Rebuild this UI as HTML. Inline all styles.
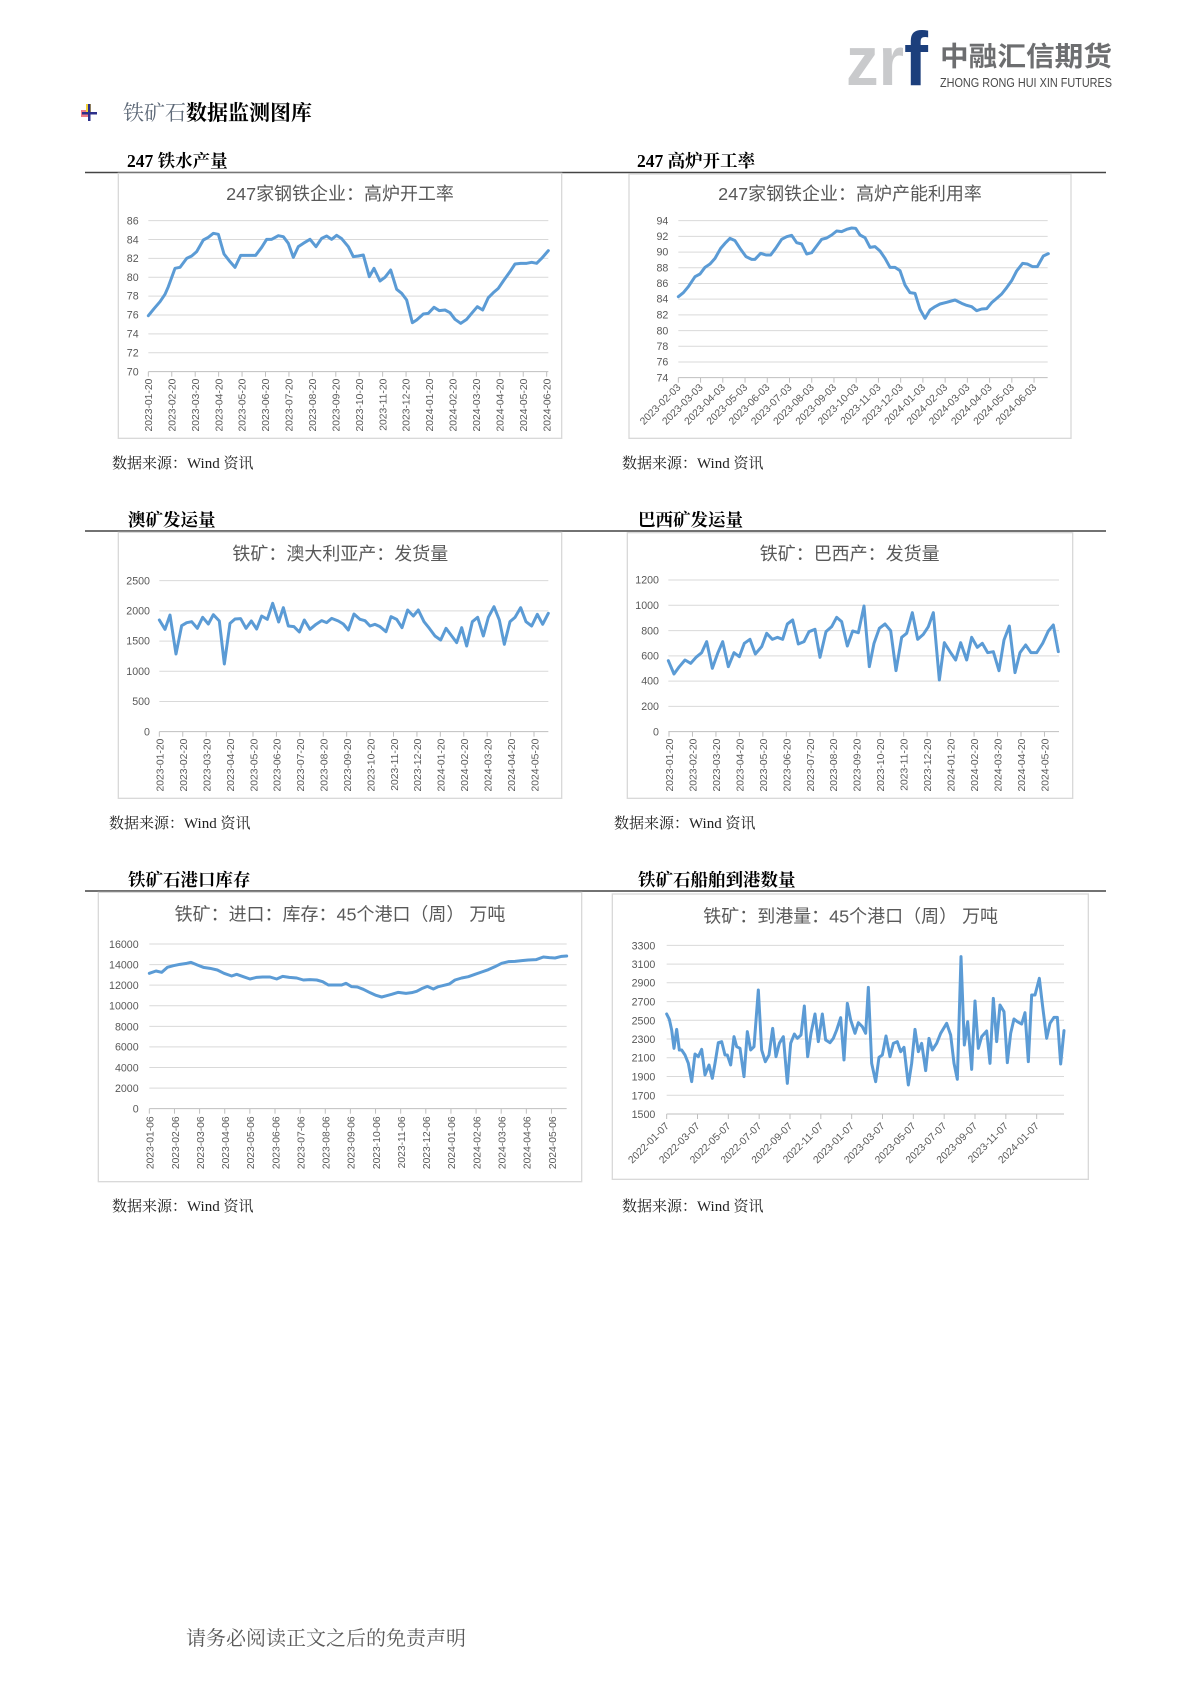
<!DOCTYPE html>
<html><head><meta charset="utf-8">
<style>
html,body{margin:0;padding:0;background:#fff;}
body{width:1190px;height:1683px;position:relative;overflow:hidden;}
svg{position:absolute;left:0;top:0;}
.ser{font-family:"Liberation Serif","Noto Serif CJK SC",serif;}
.san{font-family:"Liberation Sans","Noto Sans CJK SC",sans-serif;}
.ttl{font-family:"Liberation Sans","Noto Sans CJK SC",sans-serif;font-size:54px;fill:#595959;}
.yl{font-family:"Liberation Sans",sans-serif;font-size:32px;fill:#595959;}
.xl{font-family:"Liberation Sans",sans-serif;font-size:31px;fill:#595959;}
.grid{stroke:#d9d9d9;stroke-width:3;}
.ax{stroke:#bfbfbf;stroke-width:3;}
.box{fill:#fff;stroke:#d9d9d9;stroke-width:4;}
.ln{fill:none;stroke:#5b9bd5;stroke-width:9;stroke-linejoin:round;stroke-linecap:round;}
</style></head>
<body>
<svg width="1190" height="1683" viewBox="0 0 1190 1683" xmlns="http://www.w3.org/2000/svg">
<!-- logo -->
<text x="846" y="85" class="san" font-size="70" font-weight="bold" fill="#c9cacc" textLength="58" lengthAdjust="spacingAndGlyphs">zr</text>
<text x="904" y="85" class="san" font-size="76" font-weight="bold" fill="#1c3f7c" textLength="24" lengthAdjust="spacingAndGlyphs">f</text>
<text x="940" y="66" class="san" font-size="27" font-weight="bold" fill="#6d6e70" textLength="172" lengthAdjust="spacingAndGlyphs">中融汇信期货</text>
<text x="940" y="87" class="san" font-size="12.5" fill="#4a4a4a" textLength="172" lengthAdjust="spacingAndGlyphs">ZHONG RONG HUI XIN FUTURES</text>

<!-- section heading -->
<rect x="81" y="110" width="8" height="7" fill="#e85a6a" opacity="0.8"/>
<rect x="86" y="104" width="5" height="8" fill="#f2d23a"/>
<rect x="88" y="104" width="2.5" height="17" fill="#2c2f8a"/>
<rect x="82" y="112" width="15" height="2.5" fill="#2c2f8a"/>
<text x="123" y="120" class="ser" font-size="21" fill="#5d6877">铁矿石<tspan fill="#000" font-weight="bold">数据监测图库</tspan></text>

<!-- headers -->
<g class="ser" font-size="17.5" font-weight="bold" fill="#000">
<text x="127" y="167">247 铁水产量</text>
<text x="637" y="167">247 高炉开工率</text>
<text x="128" y="526">澳矿发运量</text>
<text x="638" y="526">巴西矿发运量</text>
<text x="128" y="886">铁矿石港口库存</text>
<text x="638" y="886">铁矿石船舶到港数量</text>
</g>
<g stroke="#444" stroke-width="1.5">
<line x1="85" y1="172.5" x2="1106" y2="172.5"/>
<line x1="85" y1="531" x2="1106" y2="531"/>
<line x1="85" y1="891" x2="1106" y2="891"/>
</g>

<!-- sources -->
<g class="ser" font-size="15" fill="#222">
<text x="112" y="468">数据来源：Wind 资讯</text>
<text x="622" y="468">数据来源：Wind 资讯</text>
<text x="109" y="828">数据来源：Wind 资讯</text>
<text x="614" y="828">数据来源：Wind 资讯</text>
<text x="112" y="1211">数据来源：Wind 资讯</text>
<text x="622" y="1211">数据来源：Wind 资讯</text>
</g>
<text x="186" y="1645" class="ser" font-size="20" fill="#595959">请务必阅读正文之后的免责声明</text>

<!-- CHART 1 -->
<g transform="translate(80,150) scale(0.333333)">
<rect class="box" x="115" y="70" width="1330" height="795"/>
<text class="ttl" x="780" y="150" text-anchor="middle">247家钢铁企业：高炉开工率</text>
<g class="grid">
<line x1="205" x2="1405" y1="212" y2="212"/><line x1="205" x2="1405" y1="268.6" y2="268.6"/><line x1="205" x2="1405" y1="325.3" y2="325.3"/><line x1="205" x2="1405" y1="381.9" y2="381.9"/><line x1="205" x2="1405" y1="438.5" y2="438.5"/><line x1="205" x2="1405" y1="495.1" y2="495.1"/><line x1="205" x2="1405" y1="551.8" y2="551.8"/><line x1="205" x2="1405" y1="608.4" y2="608.4"/>
</g>
<line class="ax" x1="205" x2="1405" y1="665" y2="665"/>
<g class="yl" text-anchor="end">
<text x="176" y="223">86</text><text x="176" y="280">84</text><text x="176" y="336">82</text><text x="176" y="393">80</text><text x="176" y="449">78</text><text x="176" y="506">76</text><text x="176" y="563">74</text><text x="176" y="619">72</text><text x="176" y="676">70</text>
</g>
<g class="ax">
<line x1="205" x2="205" y1="665" y2="680"/><line x1="275.3" x2="275.3" y1="665" y2="680"/><line x1="345.6" x2="345.6" y1="665" y2="680"/><line x1="415.9" x2="415.9" y1="665" y2="680"/><line x1="486.2" x2="486.2" y1="665" y2="680"/><line x1="556.5" x2="556.5" y1="665" y2="680"/><line x1="626.8" x2="626.8" y1="665" y2="680"/><line x1="697.1" x2="697.1" y1="665" y2="680"/><line x1="767.4" x2="767.4" y1="665" y2="680"/><line x1="837.6" x2="837.6" y1="665" y2="680"/><line x1="907.9" x2="907.9" y1="665" y2="680"/><line x1="978.2" x2="978.2" y1="665" y2="680"/><line x1="1048.5" x2="1048.5" y1="665" y2="680"/><line x1="1118.8" x2="1118.8" y1="665" y2="680"/><line x1="1189.1" x2="1189.1" y1="665" y2="680"/><line x1="1259.4" x2="1259.4" y1="665" y2="680"/><line x1="1329.7" x2="1329.7" y1="665" y2="680"/><line x1="1400" x2="1400" y1="665" y2="680"/>
</g>
<g class="xl" text-anchor="end">
<text transform="translate(205,686) rotate(-90)" dy="0.35em">2023-01-20</text>
<text transform="translate(275.3,686) rotate(-90)" dy="0.35em">2023-02-20</text>
<text transform="translate(345.6,686) rotate(-90)" dy="0.35em">2023-03-20</text>
<text transform="translate(415.9,686) rotate(-90)" dy="0.35em">2023-04-20</text>
<text transform="translate(486.2,686) rotate(-90)" dy="0.35em">2023-05-20</text>
<text transform="translate(556.5,686) rotate(-90)" dy="0.35em">2023-06-20</text>
<text transform="translate(626.8,686) rotate(-90)" dy="0.35em">2023-07-20</text>
<text transform="translate(697.1,686) rotate(-90)" dy="0.35em">2023-08-20</text>
<text transform="translate(767.4,686) rotate(-90)" dy="0.35em">2023-09-20</text>
<text transform="translate(837.6,686) rotate(-90)" dy="0.35em">2023-10-20</text>
<text transform="translate(907.9,686) rotate(-90)" dy="0.35em">2023-11-20</text>
<text transform="translate(978.2,686) rotate(-90)" dy="0.35em">2023-12-20</text>
<text transform="translate(1048.5,686) rotate(-90)" dy="0.35em">2024-01-20</text>
<text transform="translate(1118.8,686) rotate(-90)" dy="0.35em">2024-02-20</text>
<text transform="translate(1189.1,686) rotate(-90)" dy="0.35em">2024-03-20</text>
<text transform="translate(1259.4,686) rotate(-90)" dy="0.35em">2024-04-20</text>
<text transform="translate(1329.7,686) rotate(-90)" dy="0.35em">2024-05-20</text>
<text transform="translate(1400,686) rotate(-90)" dy="0.35em">2024-06-20</text>
</g>
<polyline class="ln" points="205,497 222,476 240,455 255,433 265,410 285,355 300,352 320,325 335,318 350,305 370,270 385,262 400,250 415,253 432,312 450,335 465,352 482,316 500,316 527,316 545,292 560,268 575,268 595,257 610,260 625,280 640,322 655,290 670,280 690,268 708,290 725,265 740,258 755,268 770,256 785,266 805,290 820,320 835,318 850,315 868,380 882,355 900,393 915,382 932,360 950,418 965,430 980,450 997,518 1010,510 1030,492 1045,490 1062,472 1078,482 1095,480 1110,488 1125,508 1142,520 1160,508 1175,490 1192,470 1208,480 1225,443 1240,428 1255,415 1272,390 1290,365 1305,342 1322,340 1340,340 1355,337 1370,340 1385,325 1405,302"/>
</g>

<!-- CHART 2 -->
<g transform="translate(600,150) scale(0.333333)">
<rect class="box" x="87" y="72" width="1326" height="793"/>
<text class="ttl" x="750" y="150" text-anchor="middle">247家钢铁企业：高炉产能利用率</text>
<g class="grid">
<line x1="235" x2="1343" y1="212" y2="212"/><line x1="235" x2="1343" y1="259.1" y2="259.1"/><line x1="235" x2="1343" y1="306.2" y2="306.2"/><line x1="235" x2="1343" y1="353.3" y2="353.3"/><line x1="235" x2="1343" y1="400.4" y2="400.4"/><line x1="235" x2="1343" y1="447.5" y2="447.5"/><line x1="235" x2="1343" y1="494.6" y2="494.6"/><line x1="235" x2="1343" y1="541.7" y2="541.7"/><line x1="235" x2="1343" y1="588.8" y2="588.8"/><line x1="235" x2="1343" y1="635.9" y2="635.9"/>
</g>
<line class="ax" x1="235" x2="1343" y1="683" y2="683"/>
<g class="yl" text-anchor="end">
<text x="205" y="223">94</text><text x="205" y="270">92</text><text x="205" y="317">90</text><text x="205" y="364">88</text><text x="205" y="411">86</text><text x="205" y="458">84</text><text x="205" y="506">82</text><text x="205" y="553">80</text><text x="205" y="600">78</text><text x="205" y="647">76</text><text x="205" y="694">74</text>
</g>
<g class="ax">
<line x1="235" x2="235" y1="683" y2="698"/><line x1="301.7" x2="301.7" y1="683" y2="698"/><line x1="368.4" x2="368.4" y1="683" y2="698"/><line x1="435.1" x2="435.1" y1="683" y2="698"/><line x1="501.8" x2="501.8" y1="683" y2="698"/><line x1="568.5" x2="568.5" y1="683" y2="698"/><line x1="635.2" x2="635.2" y1="683" y2="698"/><line x1="701.9" x2="701.9" y1="683" y2="698"/><line x1="768.6" x2="768.6" y1="683" y2="698"/><line x1="835.3" x2="835.3" y1="683" y2="698"/><line x1="902" x2="902" y1="683" y2="698"/><line x1="968.7" x2="968.7" y1="683" y2="698"/><line x1="1035.4" x2="1035.4" y1="683" y2="698"/><line x1="1102.1" x2="1102.1" y1="683" y2="698"/><line x1="1168.8" x2="1168.8" y1="683" y2="698"/><line x1="1235.5" x2="1235.5" y1="683" y2="698"/><line x1="1302.2" x2="1302.2" y1="683" y2="698"/>
</g>
<g class="xl" font-size="33" text-anchor="end">
<text transform="translate(244,714) rotate(-45)">2023-02-03</text>
<text transform="translate(310.7,714) rotate(-45)">2023-03-03</text>
<text transform="translate(377.4,714) rotate(-45)">2023-04-03</text>
<text transform="translate(444.1,714) rotate(-45)">2023-05-03</text>
<text transform="translate(510.8,714) rotate(-45)">2023-06-03</text>
<text transform="translate(577.5,714) rotate(-45)">2023-07-03</text>
<text transform="translate(644.2,714) rotate(-45)">2023-08-03</text>
<text transform="translate(710.9,714) rotate(-45)">2023-09-03</text>
<text transform="translate(777.6,714) rotate(-45)">2023-10-03</text>
<text transform="translate(844.3,714) rotate(-45)">2023-11-03</text>
<text transform="translate(911,714) rotate(-45)">2023-12-03</text>
<text transform="translate(977.7,714) rotate(-45)">2024-01-03</text>
<text transform="translate(1044.4,714) rotate(-45)">2024-02-03</text>
<text transform="translate(1111.1,714) rotate(-45)">2024-03-03</text>
<text transform="translate(1177.8,714) rotate(-45)">2024-04-03</text>
<text transform="translate(1244.5,714) rotate(-45)">2024-05-03</text>
<text transform="translate(1311.2,714) rotate(-45)">2024-06-03</text>
</g>
<polyline class="ln" points="235,440 250,428 265,410 285,380 300,372 315,352 330,342 345,325 362,295 375,280 390,265 405,272 420,295 438,320 455,328 465,328 482,310 498,315 512,315 527,295 545,268 560,260 575,256 590,278 605,282 620,312 635,308 650,288 665,268 680,264 695,255 710,243 725,245 740,238 755,234 767,235 780,255 795,263 810,292 825,290 840,303 855,325 870,352 885,352 900,362 915,405 930,428 945,430 960,478 975,505 990,480 1005,470 1020,462 1040,457 1065,450 1085,460 1100,466 1115,470 1130,482 1145,477 1160,476 1175,458 1190,445 1205,432 1220,413 1235,392 1250,363 1268,340 1282,342 1298,350 1312,350 1330,318 1345,311"/>
</g>

<!-- CHART 3 -->
<g transform="translate(80,510) scale(0.333333)">
<rect class="box" x="115" y="67" width="1330" height="798"/>
<text class="ttl" x="781" y="150" text-anchor="middle">铁矿：澳大利亚产：发货量</text>
<g class="grid">
<line x1="238" x2="1405" y1="212" y2="212"/><line x1="238" x2="1405" y1="302.6" y2="302.6"/><line x1="238" x2="1405" y1="393.2" y2="393.2"/><line x1="238" x2="1405" y1="483.8" y2="483.8"/><line x1="238" x2="1405" y1="574.4" y2="574.4"/>
</g>
<line class="ax" x1="238" x2="1405" y1="665" y2="665"/>
<g class="yl" text-anchor="end">
<text x="210" y="223">2500</text><text x="210" y="313">2000</text><text x="210" y="404">1500</text><text x="210" y="495">1000</text><text x="210" y="585">500</text><text x="210" y="676">0</text>
</g>
<g class="ax">
<line x1="238" x2="238" y1="665" y2="680"/><line x1="308.3" x2="308.3" y1="665" y2="680"/><line x1="378.5" x2="378.5" y1="665" y2="680"/><line x1="448.8" x2="448.8" y1="665" y2="680"/><line x1="519" x2="519" y1="665" y2="680"/><line x1="589.3" x2="589.3" y1="665" y2="680"/><line x1="659.5" x2="659.5" y1="665" y2="680"/><line x1="729.8" x2="729.8" y1="665" y2="680"/><line x1="800" x2="800" y1="665" y2="680"/><line x1="870.3" x2="870.3" y1="665" y2="680"/><line x1="940.5" x2="940.5" y1="665" y2="680"/><line x1="1010.8" x2="1010.8" y1="665" y2="680"/><line x1="1081" x2="1081" y1="665" y2="680"/><line x1="1151.3" x2="1151.3" y1="665" y2="680"/><line x1="1221.5" x2="1221.5" y1="665" y2="680"/><line x1="1291.8" x2="1291.8" y1="665" y2="680"/><line x1="1362" x2="1362" y1="665" y2="680"/>
</g>
<g class="xl" text-anchor="end">
<text transform="translate(240,686) rotate(-90)" dy="0.35em">2023-01-20</text>
<text transform="translate(310.3,686) rotate(-90)" dy="0.35em">2023-02-20</text>
<text transform="translate(380.5,686) rotate(-90)" dy="0.35em">2023-03-20</text>
<text transform="translate(450.8,686) rotate(-90)" dy="0.35em">2023-04-20</text>
<text transform="translate(521,686) rotate(-90)" dy="0.35em">2023-05-20</text>
<text transform="translate(591.3,686) rotate(-90)" dy="0.35em">2023-06-20</text>
<text transform="translate(661.5,686) rotate(-90)" dy="0.35em">2023-07-20</text>
<text transform="translate(731.8,686) rotate(-90)" dy="0.35em">2023-08-20</text>
<text transform="translate(802,686) rotate(-90)" dy="0.35em">2023-09-20</text>
<text transform="translate(872.3,686) rotate(-90)" dy="0.35em">2023-10-20</text>
<text transform="translate(942.5,686) rotate(-90)" dy="0.35em">2023-11-20</text>
<text transform="translate(1012.8,686) rotate(-90)" dy="0.35em">2023-12-20</text>
<text transform="translate(1083,686) rotate(-90)" dy="0.35em">2024-01-20</text>
<text transform="translate(1153.3,686) rotate(-90)" dy="0.35em">2024-02-20</text>
<text transform="translate(1223.5,686) rotate(-90)" dy="0.35em">2024-03-20</text>
<text transform="translate(1293.8,686) rotate(-90)" dy="0.35em">2024-04-20</text>
<text transform="translate(1364,686) rotate(-90)" dy="0.35em">2024-05-20</text>
</g>
<polyline class="ln" points="238,330 255,358 270,315 288,432 305,347 320,338 335,335 352,355 368,322 385,342 400,314 418,333 433,462 450,340 465,327 482,326 498,355 514,333 530,357 545,318 562,328 578,280 596,336 610,293 625,348 642,350 658,366 673,330 690,358 708,343 725,332 740,338 755,325 775,333 790,342 805,360 822,312 840,328 855,332 870,348 885,343 900,350 918,365 933,320 950,328 966,353 983,300 1000,318 1015,300 1032,335 1048,355 1065,378 1082,390 1098,355 1113,375 1130,398 1145,353 1160,408 1177,335 1193,322 1210,378 1225,322 1242,290 1258,330 1273,403 1290,335 1305,322 1322,293 1338,335 1355,348 1372,313 1388,343 1405,310"/>
</g>

<!-- CHART 4 -->
<g transform="translate(600,510) scale(0.333333)">
<rect class="box" x="82" y="68" width="1336" height="797"/>
<text class="ttl" x="749" y="150" text-anchor="middle">铁矿：巴西产：发货量</text>
<g class="grid">
<line x1="205" x2="1377" y1="210" y2="210"/><line x1="205" x2="1377" y1="285.8" y2="285.8"/><line x1="205" x2="1377" y1="361.7" y2="361.7"/><line x1="205" x2="1377" y1="437.5" y2="437.5"/><line x1="205" x2="1377" y1="513.3" y2="513.3"/><line x1="205" x2="1377" y1="589.2" y2="589.2"/>
</g>
<line class="ax" x1="205" x2="1377" y1="665" y2="665"/>
<g class="yl" text-anchor="end">
<text x="177" y="221">1200</text><text x="177" y="297">1000</text><text x="177" y="373">800</text><text x="177" y="448">600</text><text x="177" y="524">400</text><text x="177" y="600">200</text><text x="177" y="676">0</text>
</g>
<g class="ax">
<line x1="207" x2="207" y1="665" y2="680"/><line x1="277.4" x2="277.4" y1="665" y2="680"/><line x1="347.8" x2="347.8" y1="665" y2="680"/><line x1="418.2" x2="418.2" y1="665" y2="680"/><line x1="488.6" x2="488.6" y1="665" y2="680"/><line x1="559" x2="559" y1="665" y2="680"/><line x1="629.4" x2="629.4" y1="665" y2="680"/><line x1="699.8" x2="699.8" y1="665" y2="680"/><line x1="770.2" x2="770.2" y1="665" y2="680"/><line x1="840.6" x2="840.6" y1="665" y2="680"/><line x1="911" x2="911" y1="665" y2="680"/><line x1="981.4" x2="981.4" y1="665" y2="680"/><line x1="1051.8" x2="1051.8" y1="665" y2="680"/><line x1="1122.2" x2="1122.2" y1="665" y2="680"/><line x1="1192.6" x2="1192.6" y1="665" y2="680"/><line x1="1263" x2="1263" y1="665" y2="680"/><line x1="1333.4" x2="1333.4" y1="665" y2="680"/>
</g>
<g class="xl" text-anchor="end">
<text transform="translate(208,686) rotate(-90)" dy="0.35em">2023-01-20</text>
<text transform="translate(278.4,686) rotate(-90)" dy="0.35em">2023-02-20</text>
<text transform="translate(348.8,686) rotate(-90)" dy="0.35em">2023-03-20</text>
<text transform="translate(419.2,686) rotate(-90)" dy="0.35em">2023-04-20</text>
<text transform="translate(489.6,686) rotate(-90)" dy="0.35em">2023-05-20</text>
<text transform="translate(560,686) rotate(-90)" dy="0.35em">2023-06-20</text>
<text transform="translate(630.4,686) rotate(-90)" dy="0.35em">2023-07-20</text>
<text transform="translate(700.8,686) rotate(-90)" dy="0.35em">2023-08-20</text>
<text transform="translate(771.2,686) rotate(-90)" dy="0.35em">2023-09-20</text>
<text transform="translate(841.6,686) rotate(-90)" dy="0.35em">2023-10-20</text>
<text transform="translate(912,686) rotate(-90)" dy="0.35em">2023-11-20</text>
<text transform="translate(982.4,686) rotate(-90)" dy="0.35em">2023-12-20</text>
<text transform="translate(1052.8,686) rotate(-90)" dy="0.35em">2024-01-20</text>
<text transform="translate(1123.2,686) rotate(-90)" dy="0.35em">2024-02-20</text>
<text transform="translate(1193.6,686) rotate(-90)" dy="0.35em">2024-03-20</text>
<text transform="translate(1264,686) rotate(-90)" dy="0.35em">2024-04-20</text>
<text transform="translate(1334.4,686) rotate(-90)" dy="0.35em">2024-05-20</text>
</g>
<polyline class="ln" points="205,452 222,492 238,470 255,450 272,460 288,442 305,428 320,395 337,475 353,430 368,395 385,470 402,428 418,440 433,400 450,388 466,432 485,410 500,370 517,388 532,382 548,388 562,342 578,330 595,402 612,395 627,365 645,358 660,442 678,365 695,350 710,322 725,335 742,408 758,363 775,368 792,288 808,470 822,400 838,355 855,342 872,362 888,482 905,382 920,370 937,308 953,388 970,373 985,350 1000,308 1018,510 1033,398 1050,425 1067,450 1082,398 1100,450 1115,382 1132,412 1147,400 1163,428 1180,425 1197,482 1212,390 1228,348 1245,488 1260,428 1277,405 1293,428 1310,428 1328,400 1345,363 1360,345 1375,425"/>
</g>

<!-- CHART 5 -->
<g transform="translate(80,870) scale(0.333333)">
<rect class="box" x="55" y="67" width="1450" height="868"/>
<text class="ttl" x="780" y="152" text-anchor="middle">铁矿：进口：库存：45个港口（周） 万吨</text>
<g class="grid">
<line x1="208" x2="1460" y1="222" y2="222"/><line x1="208" x2="1460" y1="283.8" y2="283.8"/><line x1="208" x2="1460" y1="345.5" y2="345.5"/><line x1="208" x2="1460" y1="407.3" y2="407.3"/><line x1="208" x2="1460" y1="469" y2="469"/><line x1="208" x2="1460" y1="530.8" y2="530.8"/><line x1="208" x2="1460" y1="592.5" y2="592.5"/><line x1="208" x2="1460" y1="654.3" y2="654.3"/>
</g>
<line class="ax" x1="208" x2="1460" y1="716" y2="716"/>
<g class="yl" font-size="34" text-anchor="end">
<text x="176" y="234">16000</text><text x="176" y="296">14000</text><text x="176" y="357">12000</text><text x="176" y="419">10000</text><text x="176" y="481">8000</text><text x="176" y="542">6000</text><text x="176" y="604">4000</text><text x="176" y="666">2000</text><text x="176" y="728">0</text>
</g>
<g class="ax">
<line x1="208" x2="208" y1="716" y2="731"/><line x1="283.4" x2="283.4" y1="716" y2="731"/><line x1="358.8" x2="358.8" y1="716" y2="731"/><line x1="434.2" x2="434.2" y1="716" y2="731"/><line x1="509.6" x2="509.6" y1="716" y2="731"/><line x1="585" x2="585" y1="716" y2="731"/><line x1="660.4" x2="660.4" y1="716" y2="731"/><line x1="735.8" x2="735.8" y1="716" y2="731"/><line x1="811.2" x2="811.2" y1="716" y2="731"/><line x1="886.6" x2="886.6" y1="716" y2="731"/><line x1="962" x2="962" y1="716" y2="731"/><line x1="1037.4" x2="1037.4" y1="716" y2="731"/><line x1="1112.8" x2="1112.8" y1="716" y2="731"/><line x1="1188.2" x2="1188.2" y1="716" y2="731"/><line x1="1263.6" x2="1263.6" y1="716" y2="731"/><line x1="1339" x2="1339" y1="716" y2="731"/><line x1="1414.4" x2="1414.4" y1="716" y2="731"/>
</g>
<g class="xl" font-size="33" text-anchor="end">
<text transform="translate(210,739) rotate(-90)" dy="0.35em">2023-01-06</text>
<text transform="translate(285.4,739) rotate(-90)" dy="0.35em">2023-02-06</text>
<text transform="translate(360.8,739) rotate(-90)" dy="0.35em">2023-03-06</text>
<text transform="translate(436.2,739) rotate(-90)" dy="0.35em">2023-04-06</text>
<text transform="translate(511.6,739) rotate(-90)" dy="0.35em">2023-05-06</text>
<text transform="translate(587,739) rotate(-90)" dy="0.35em">2023-06-06</text>
<text transform="translate(662.4,739) rotate(-90)" dy="0.35em">2023-07-06</text>
<text transform="translate(737.8,739) rotate(-90)" dy="0.35em">2023-08-06</text>
<text transform="translate(813.2,739) rotate(-90)" dy="0.35em">2023-09-06</text>
<text transform="translate(888.6,739) rotate(-90)" dy="0.35em">2023-10-06</text>
<text transform="translate(964,739) rotate(-90)" dy="0.35em">2023-11-06</text>
<text transform="translate(1039.4,739) rotate(-90)" dy="0.35em">2023-12-06</text>
<text transform="translate(1114.8,739) rotate(-90)" dy="0.35em">2024-01-06</text>
<text transform="translate(1190.2,739) rotate(-90)" dy="0.35em">2024-02-06</text>
<text transform="translate(1265.6,739) rotate(-90)" dy="0.35em">2024-03-06</text>
<text transform="translate(1341,739) rotate(-90)" dy="0.35em">2024-04-06</text>
<text transform="translate(1416.4,739) rotate(-90)" dy="0.35em">2024-05-06</text>
</g>
<polyline class="ln" points="208,310 228,303 245,307 262,292 280,287 300,283 320,280 333,277 352,285 370,292 390,295 412,300 432,310 455,318 470,313 490,320 510,327 530,322 548,321 570,321 590,327 608,319 628,322 650,324 670,330 690,329 710,330 728,335 745,345 765,345 785,345 798,340 815,350 832,351 850,358 870,368 888,376 905,381 920,377 935,373 955,367 978,370 995,368 1010,364 1025,356 1042,349 1060,357 1075,350 1092,346 1108,342 1125,330 1145,324 1165,320 1185,313 1205,306 1225,299 1245,290 1265,280 1285,275 1305,274 1325,272 1345,270 1368,269 1390,261 1408,263 1425,264 1445,259 1460,258"/>
</g>

<!-- CHART 6 -->
<g transform="translate(600,870) scale(0.333333)">
<rect class="box" x="37" y="72" width="1428" height="856"/>
<text class="ttl" x="752" y="158" text-anchor="middle">铁矿：到港量：45个港口（周） 万吨</text>
<g class="grid">
<line x1="200" x2="1392" y1="226" y2="226"/><line x1="200" x2="1392" y1="282.2" y2="282.2"/><line x1="200" x2="1392" y1="338.4" y2="338.4"/><line x1="200" x2="1392" y1="394.7" y2="394.7"/><line x1="200" x2="1392" y1="450.9" y2="450.9"/><line x1="200" x2="1392" y1="507.1" y2="507.1"/><line x1="200" x2="1392" y1="563.3" y2="563.3"/><line x1="200" x2="1392" y1="619.6" y2="619.6"/><line x1="200" x2="1392" y1="675.8" y2="675.8"/>
</g>
<line class="ax" x1="200" x2="1392" y1="732" y2="732"/>
<g class="yl" font-size="34" text-anchor="end">
<text x="166" y="238">3300</text><text x="166" y="294">3100</text><text x="166" y="350">2900</text><text x="166" y="406">2700</text><text x="166" y="463">2500</text><text x="166" y="519">2300</text><text x="166" y="575">2100</text><text x="166" y="631">1900</text><text x="166" y="688">1700</text><text x="166" y="744">1500</text>
</g>
<g class="ax">
<line x1="200" x2="200" y1="732" y2="747"/><line x1="292.5" x2="292.5" y1="732" y2="747"/><line x1="385" x2="385" y1="732" y2="747"/><line x1="477.5" x2="477.5" y1="732" y2="747"/><line x1="570" x2="570" y1="732" y2="747"/><line x1="662.5" x2="662.5" y1="732" y2="747"/><line x1="755" x2="755" y1="732" y2="747"/><line x1="847.5" x2="847.5" y1="732" y2="747"/><line x1="940" x2="940" y1="732" y2="747"/><line x1="1032.5" x2="1032.5" y1="732" y2="747"/><line x1="1125" x2="1125" y1="732" y2="747"/><line x1="1217.5" x2="1217.5" y1="732" y2="747"/><line x1="1310" x2="1310" y1="732" y2="747"/>
</g>
<g class="xl" font-size="34" text-anchor="end">
<text transform="translate(209,770) rotate(-45)">2022-01-07</text>
<text transform="translate(301.5,770) rotate(-45)">2022-03-07</text>
<text transform="translate(394,770) rotate(-45)">2022-05-07</text>
<text transform="translate(486.5,770) rotate(-45)">2022-07-07</text>
<text transform="translate(579,770) rotate(-45)">2022-09-07</text>
<text transform="translate(671.5,770) rotate(-45)">2022-11-07</text>
<text transform="translate(764,770) rotate(-45)">2023-01-07</text>
<text transform="translate(856.5,770) rotate(-45)">2023-03-07</text>
<text transform="translate(949,770) rotate(-45)">2023-05-07</text>
<text transform="translate(1041.5,770) rotate(-45)">2023-07-07</text>
<text transform="translate(1134,770) rotate(-45)">2023-09-07</text>
<text transform="translate(1226.5,770) rotate(-45)">2023-11-07</text>
<text transform="translate(1319,770) rotate(-45)">2024-01-07</text>
</g>
<polyline class="ln" stroke-width="8" points="200,432 208,448 215,480 222,535 230,478 238,540 245,540 255,555 265,580 275,635 285,552 295,560 305,538 315,615 327,585 337,625 345,580 355,518 365,515 375,555 382,555 392,585 402,500 410,530 420,535 432,620 442,485 452,540 462,530 475,360 485,540 496,575 507,555 518,475 528,560 538,520 550,500 562,640 572,520 583,492 592,505 603,495 613,408 623,560 633,490 645,432 655,515 667,432 677,510 690,518 700,505 710,480 722,443 732,570 742,400 752,450 765,490 775,458 787,470 797,490 805,352 815,580 827,635 837,562 847,555 858,498 870,560 880,520 892,515 902,545 912,532 925,645 935,580 945,478 955,545 965,520 977,602 987,505 997,540 1010,520 1022,490 1040,460 1052,495 1062,580 1072,628 1083,260 1093,525 1103,455 1115,598 1125,393 1135,535 1145,500 1160,483 1170,580 1180,385 1190,515 1200,405 1212,425 1222,578 1232,490 1242,447 1252,455 1265,462 1275,428 1285,575 1295,375 1305,375 1318,325 1328,410 1340,505 1350,460 1362,442 1372,442 1382,582 1392,482"/>
</g>
</svg>
</body></html>
